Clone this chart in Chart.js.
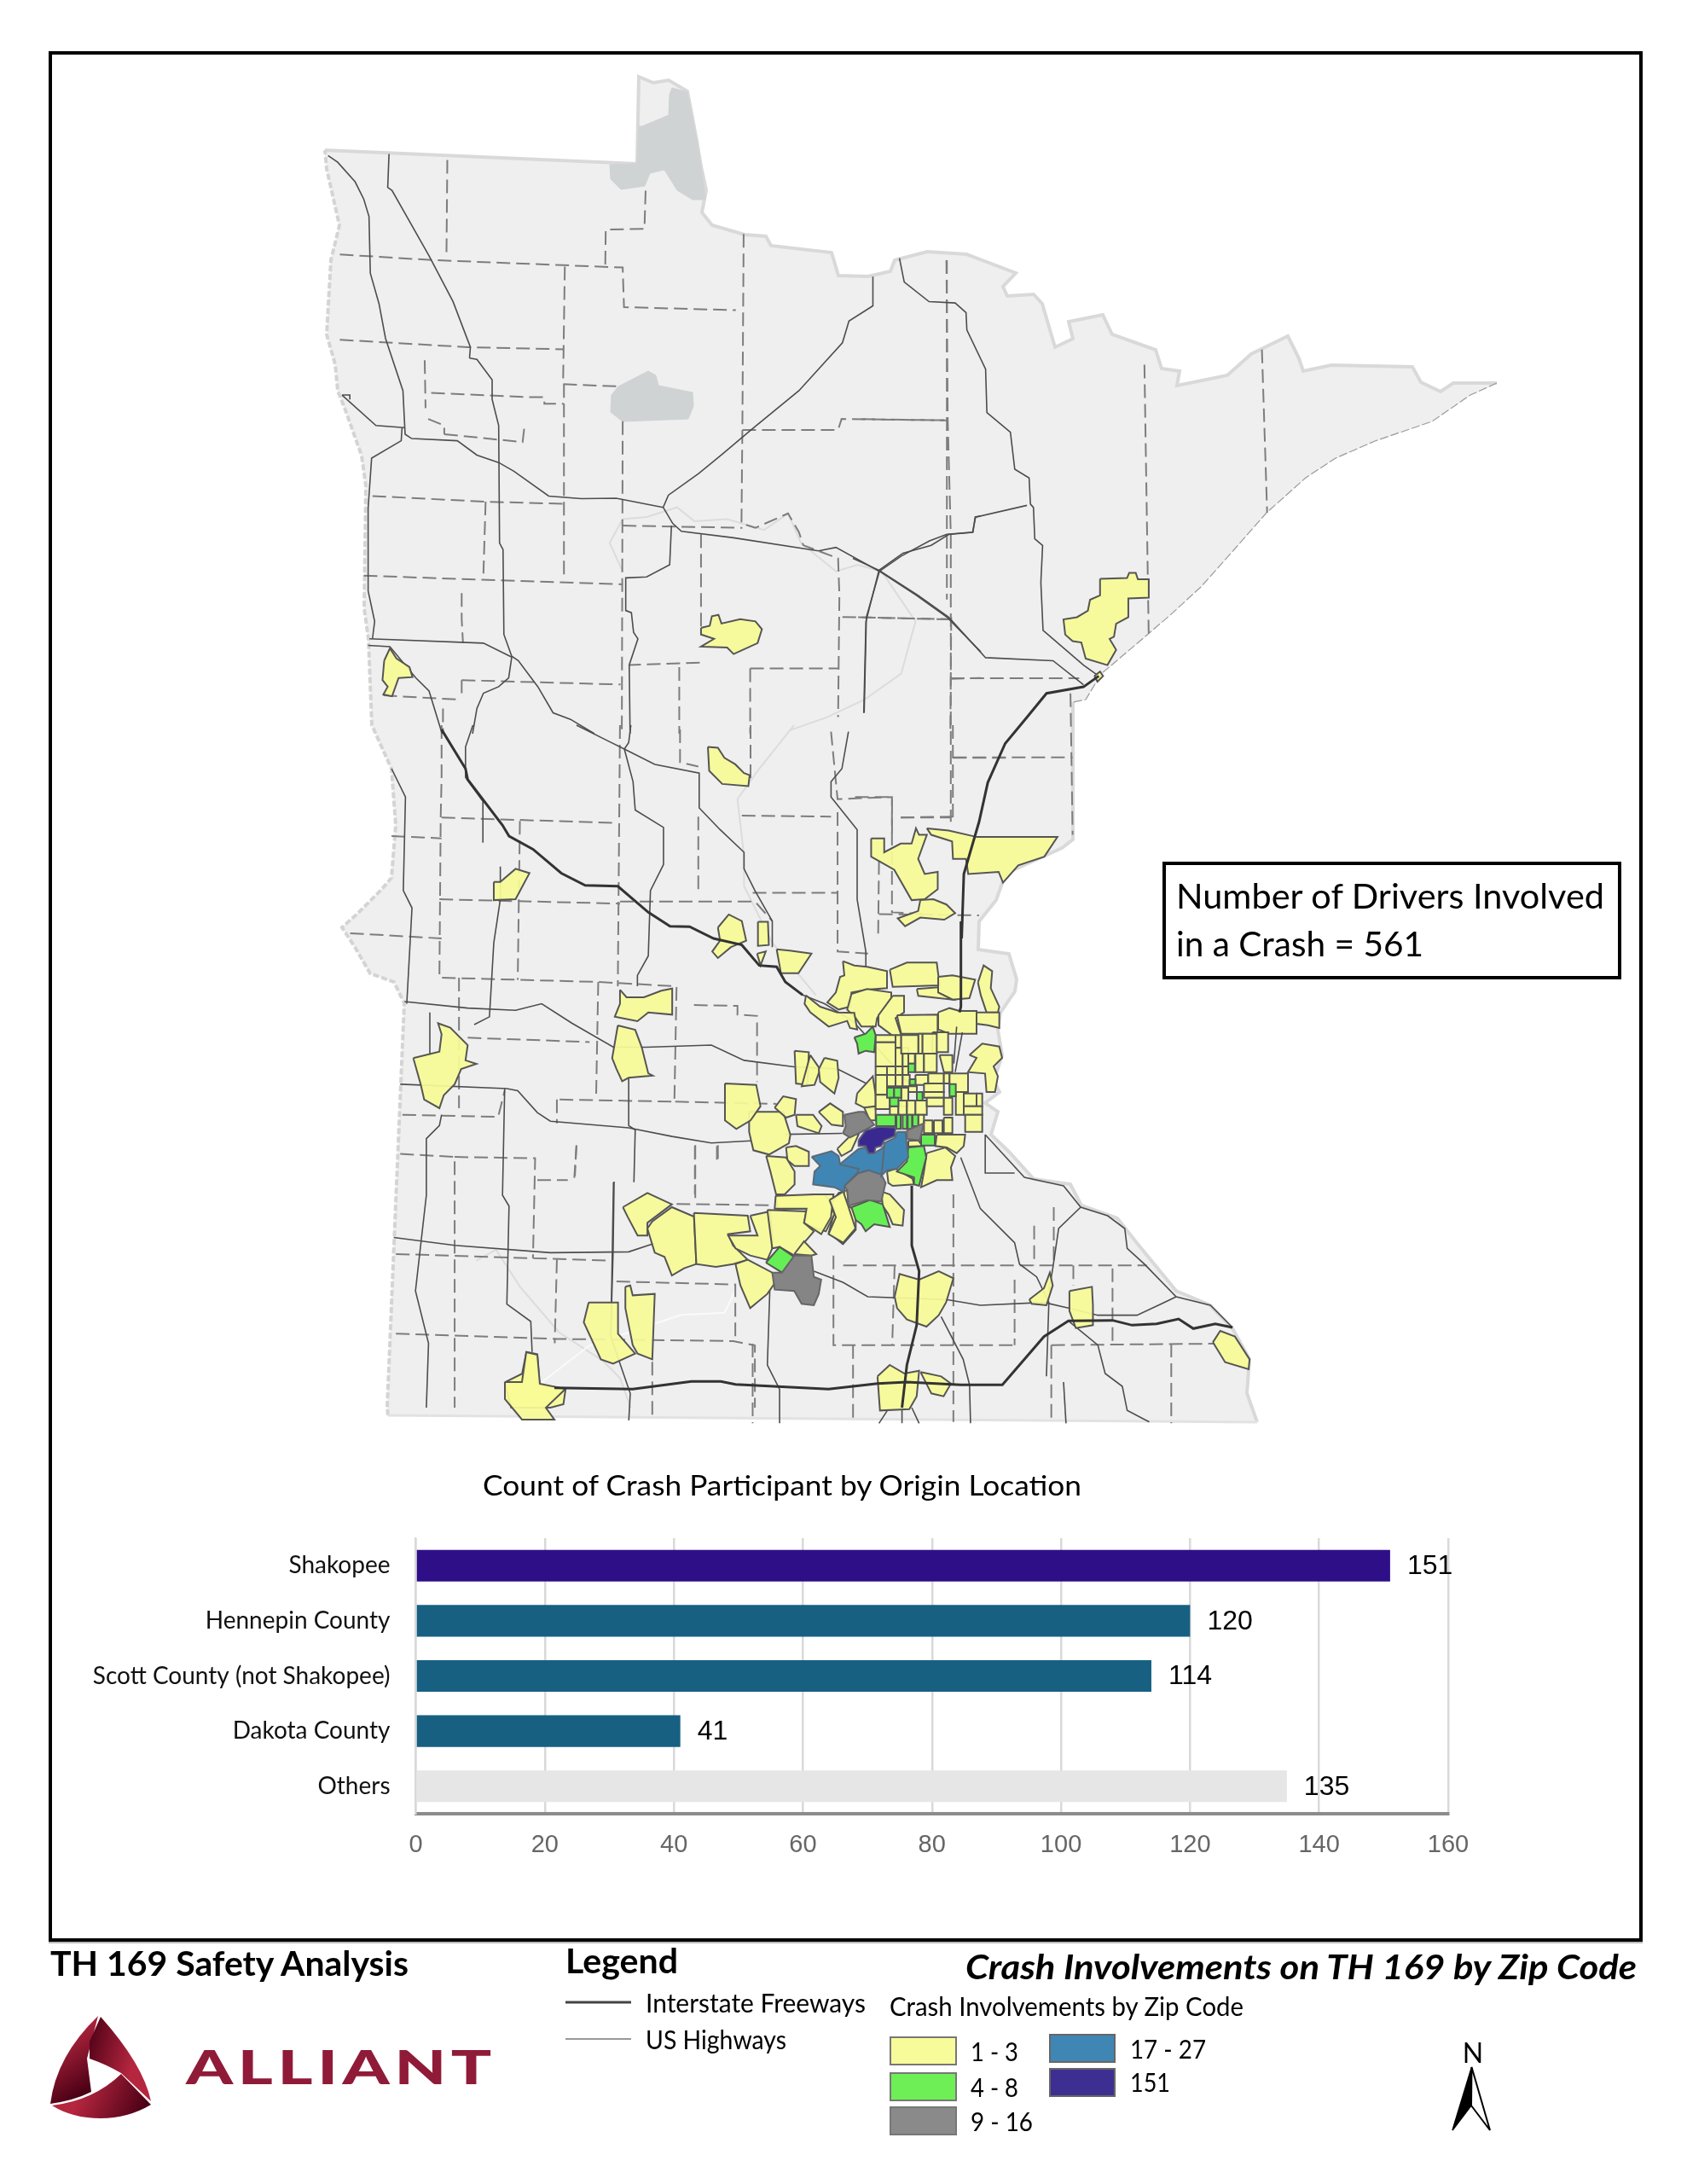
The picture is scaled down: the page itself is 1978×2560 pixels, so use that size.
<!DOCTYPE html>
<html>
<head>
<meta charset="utf-8">
<title>Crash Involvements on TH 169 by Zip Code</title>
<script src="https://cdn.jsdelivr.net/npm/chart.js@4/dist/chart.umd.min.js"></script>
<style>
    html, body { margin: 0; padding: 0; background: #fff; }
    #page { position: relative; width: 1978px; height: 2560px; overflow: hidden; background: #fff; }
    #frame { position: absolute; left: 57px; top: 60px; width: 1861px; height: 2208px; border: 4px solid #000; box-shadow: 0 2px 0 #bbb; }
    #mapChart, #barChart, #notes { position: absolute; }
    #mapChart { left: 0; top: 0; }
    #barChart { left: 60px; top: 1780px; }
    #notes { left: 0; top: 0; }
</style>
</head>
<body>
<div id="page">
    <div id="frame"></div>
    <canvas id="mapChart" width="1978" height="1720"></canvas>
    <canvas id="barChart" width="1750" height="440"></canvas>
    <svg id="notes" width="1978" height="2560" viewBox="0 0 1978 2560" xmlns="http://www.w3.org/2000/svg">
        <defs>
            <linearGradient id="bladeLeft" x1="0" y1="0" x2="0.35" y2="1">
                <stop offset="0.25" stop-color="#b5263f"/><stop offset="1" stop-color="#4a0015"/>
            </linearGradient>
            <linearGradient id="bladeRight" x1="0" y1="0" x2="1" y2="0.35">
                <stop offset="0" stop-color="#4a0015"/><stop offset="0.8" stop-color="#b5263f"/>
            </linearGradient>
            <linearGradient id="bladeBottom" x1="0" y1="0.3" x2="1" y2="0.5">
                <stop offset="0.3" stop-color="#b5263f"/><stop offset="1" stop-color="#4a0015"/>
            </linearGradient>
        </defs>

        <rect x="1365" y="1012" width="534" height="134" fill="#fff" stroke="#000" stroke-width="4"/>
        <text x="1379" y="1065" font-family="Lato" font-size="41" textLength="502" lengthAdjust="spacingAndGlyphs">Number of Drivers Involved</text>
        <text x="1379" y="1121" font-family="Lato" font-size="41" textLength="290" lengthAdjust="spacingAndGlyphs">in a Crash = 561</text>

        <text x="566" y="1753" font-family="Lato" font-size="33" textLength="702" lengthAdjust="spacingAndGlyphs">Count of Crash Participant by Origin Location</text>

        <text x="59" y="2316" font-family="Lato" font-weight="700" font-size="41" textLength="420" lengthAdjust="spacingAndGlyphs">TH 169 Safety Analysis</text>
        <text x="663" y="2313" font-family="Lato" font-weight="700" font-size="41" textLength="132" lengthAdjust="spacingAndGlyphs">Legend</text>
        <text x="1132" y="2320" font-family="Lato" font-weight="700" font-style="italic" font-size="41" textLength="787" lengthAdjust="spacingAndGlyphs">Crash Involvements on TH 169 by Zip Code</text>

        <line x1="663" y1="2347" x2="740" y2="2347" stroke="#444" stroke-width="3"/>
        <line x1="663" y1="2390" x2="740" y2="2390" stroke="#999" stroke-width="2"/>
        <text x="757" y="2359" font-family="Lato" font-size="30" textLength="258" lengthAdjust="spacingAndGlyphs">Interstate Freeways</text>
        <text x="757" y="2402" font-family="Lato" font-size="30" textLength="165" lengthAdjust="spacingAndGlyphs">US Highways</text>

        <text x="1043" y="2363" font-family="Lato" font-size="30" textLength="415" lengthAdjust="spacingAndGlyphs">Crash Involvements by Zip Code</text>
        <rect x="1044" y="2388" width="77" height="32" fill="#f7fb99" stroke="#777" stroke-width="2"/>
        <rect x="1044" y="2430" width="77" height="32" fill="#6eef55" stroke="#777" stroke-width="2"/>
        <rect x="1044" y="2470" width="77" height="32" fill="#8a8a8a" stroke="#777" stroke-width="2"/>
        <rect x="1231" y="2385" width="76" height="32" fill="#4086b5" stroke="#666" stroke-width="2"/>
        <rect x="1231" y="2425" width="76" height="32" fill="#3d2f92" stroke="#666" stroke-width="2"/>
        <text x="1138" y="2416" font-family="Lato" font-size="30" textLength="56" lengthAdjust="spacingAndGlyphs">1 - 3</text>
        <text x="1138" y="2458" font-family="Lato" font-size="30" textLength="56" lengthAdjust="spacingAndGlyphs">4 - 8</text>
        <text x="1138" y="2498" font-family="Lato" font-size="30" textLength="73" lengthAdjust="spacingAndGlyphs">9 - 16</text>
        <text x="1325" y="2413" font-family="Lato" font-size="30" textLength="89" lengthAdjust="spacingAndGlyphs">17 - 27</text>
        <text x="1325" y="2452" font-family="Lato" font-size="30" textLength="47" lengthAdjust="spacingAndGlyphs">151</text>

        <text x="1727" y="2418" text-anchor="middle" font-family="Lato" font-size="32">N</text>
        <path d="M1725.5 2423 L1703 2497 L1725 2468 Z" fill="#000" stroke="#000" stroke-width="1.5"/>
        <path d="M1725.5 2423 L1747 2497 L1725 2468 Z" fill="#fff" stroke="#000" stroke-width="2"/>

        <path d="M115 2363 Q66 2410 59 2466 Q87 2462 107 2452 L102 2413 Z" fill="url(#bladeLeft)"/>
        <path d="M118 2364 Q168 2420 177 2463 L142 2430 Q125 2420 105 2413 L105 2393 Z" fill="url(#bladeRight)"/>
        <path d="M61 2468 Q110 2462 142 2431 L177 2467 Q150 2483 118 2483 Q85 2483 61 2468 Z" fill="url(#bladeBottom)"/>
        <text x="218" y="2443" font-family="Lato" font-weight="900" font-size="56" letter-spacing="4" fill="#8f1b38" textLength="364" lengthAdjust="spacingAndGlyphs">ALLIANT</text>
    </svg>
</div>

<script>
// Bar panel values
const categories = ["Shakopee", "Hennepin County", "Scott County (not Shakopee)", "Dakota County", "Others"];
const crashCounts = [151, 120, 114, 41, 135];
const barColors = ["#2f0f87", "#176082", "#176082", "#176082", "#e6e6e6"];

const cropA = [350, 60, 1.96, 1.96];
const cropB = [1000, 300, 1.96, 1.96];
const cropC = [380, 850, 1.96, 1.96];
const cropD = [850, 1080, 3, 3];
const cropE = [650, 1300, 1.742, 3];

const northBorder = [
    [381,176],[747,192],[749,90],[766,97],[784,94],[806,107],[817,165],[822,195],[828,223],[823,249],[835,264],[873,275],[898,277],[904,288],
    [975,296],[983,323],[1018,324],[1044,318],[1049,305],[1087,295],[1133,298],[1191,320],[1176,336],[1181,347],[1212,345],[1222,356],[1237,407],
    [1258,397],[1253,377],[1293,369],[1304,392],[1355,410],[1362,432],[1383,435],[1380,452],[1439,440],[1467,415],[1510,394],[1523,420],[1528,435],
    [1561,428],[1656,430],[1666,448],[1689,459],[1704,449],[1755,449]
];
const lakeShore = [
    [1755,449],[1724,463],[1679,494],[1612,517],[1566,537],[1531,560],[1485,601],[1449,642],[1408,688],[1372,721],[1337,751],[1291,790],[1273,820],[1258,823]
];
const eastBorder = [
    [1258,823],[1258,984],[1245,994],[1179,1024],[1168,1055],[1148,1080],[1147,1113],[1183,1118],[1192,1148],[1190,1162],[1173,1187],[1170,1207],[1175,1237],
    [1165,1267],[1172,1280],[1155,1293],[1170,1303],[1162,1330],[1183,1350],[1212,1382],[1255,1388],[1268,1413],[1310,1428],[1333,1457],[1379,1513],
    [1419,1530],[1445,1557],[1465,1593],[1462,1633],[1474,1667]
];
const southBorder = [[1474,1667],[455,1659]];
const westBorder = [
    [455,1659],[454,1650],[464,1411],[474,1176],[462,1151],[434,1141],[416,1110],[401,1087],[418,1072],[446,1044],[459,1029],[464,967],[459,901],[436,850],
    [432,749],[427,713],[429,570],[424,534],[404,478],[396,458],[393,427],[383,392],[388,305],[398,264],[383,198],[381,176]
];
const lakeOfTheWoods = [
    [788,103],[806,108],[817,165],[822,195],[827,234],[812,234],[794,223],[779,199],[762,203],[756,218],[728,222],[716,210],[715,193],[747,192],[749,148],[753,148],[784,135],[785,111]
];
const redLake = [[725,453],[760,435],[769,440],[772,452],[812,460],[813,476],[807,491],[730,494],[716,483],[717,463]];

const ghostRoadsA = [
    [[745,1195],[715,1130],[745,1075],[800,1070],[870,1048],[910,1080],[985,1075],[1070,1100],[1125,1062],[1155,1130],[1235,1195],[1285,1180],[1340,1195],[1418,1310],[1385,1430],[1300,1490],[1215,1530],[1130,1560]]
];
const ghostRoadsC = [
    [[1080,0],[1000,100],[950,170],[965,300],[965,370],[1030,500],[1130,620]],
    [[350,1230],[395,1205],[450,1290],[540,1395],[640,1460],[680,1500],[705,1568]]
];
const paleRoadsC = [[[500,1510],[610,1425],[820,1355],[920,1350],[945,1300]]];

const dashedRoadsA = [
    [[95,467],[310,480],[745,497],[748,588],[1005,595]],[[342,250],[340,470]],[[612,495],[608,765],[730,770]],[[610,765],[610,1205]],
    [[705,490],[706,410],[795,408],[798,310]],[[1023,420],[1020,870],[1018,1085],[1050,1095],[1125,1062],[1150,1105],[1160,1135],[1240,1165],[1243,1250],[1240,1530]],
    [[95,663],[390,680],[610,685]],[[290,710],[292,820]],[[305,785],[530,795],[565,795],[565,810],[610,810]],[[298,845],[335,860],[335,880]],[[335,880],[515,898],[520,855]],
    [[745,850],[743,1568]],[[1020,870],[1240,870],[1248,845],[1490,848]],[[1490,480],[1490,1260]],[[170,1022],[430,1035],[612,1040]],[[430,1035],[425,1200]],
    [[150,1205],[745,1225]],[[375,1245],[375,1305],[378,1360]],[[375,1445],[740,1455]],[[375,1445],[375,1475]],[[745,1090],[1020,1095]],[[925,1110],[925,1325]],
    [[922,1405],[760,1410]],[[875,1415],[875,1568]],[[1038,1418],[1240,1418]],[[1038,1418],[1038,1568]],[[1250,1300],[1500,1305]],[[1500,1300],[1498,1568]],[[1498,1442],[1568,1440]],
    [[195,1480],[375,1490]],[[332,1510],[332,1568]]
];
const dashedRoadsB = [
    [[215,10],[218,380],[225,640],[225,1300]],[[20,375],[218,378]],[[670,250],[680,880]],[[940,215],[952,590]],[[12,830],[220,835]],[[225,970],[520,970]],
    [[500,1005],[505,1330]],[[230,1152],[505,1152]],[[5,1243],[90,1243],[90,1330]],[[110,1290],[225,1290]],[[60,1390],[58,1568]],[[60,1512],[290,1515]]
];
const dashedRoadsC = [
    [[270,0],[270,120],[268,210],[265,580],[630,590],[810,600],[805,865],[535,860]],[[270,212],[675,225]],[[680,0],[675,600]],[[155,255],[270,260]],[[265,400],[680,410]],
    [[680,405],[990,405],[1030,450]],[[60,478],[270,490]],[[450,220],[445,585]],[[310,580],[310,880]],[[630,590],[625,860]],[[330,718],[610,728]],[[180,895],[400,900],[415,840]],
    [[535,860],[535,915]],[[860,210],[860,380]],[[985,385],[1180,385]],[[960,208],[1165,210]],[[1165,15],[1180,170],[1305,165],[1305,430],[1400,435]],[[1180,200],[1180,520],[1250,525]],
    [[1445,0],[1445,220]],[[1445,75],[1568,75]],[[1325,212],[1445,210]],[[980,0],[980,130]],[[818,10],[818,85],[860,95]],[[850,643],[950,645],[950,665],[995,668],[995,820]],
    [[807,865],[1040,870]],[[175,985],[300,992],[300,1568]],[[300,992],[485,995],[480,1225]],[[490,1045],[560,1045]],[[580,965],[575,1040]],[[165,1215],[650,1230]],[[535,1228],[530,1420]],
    [[165,1398],[530,1410],[940,1415],[990,1425],[990,1568]],[[672,1278],[945,1285],[945,1410]],[[810,1100],[1040,1103]],[[905,965],[905,1010]],[[853,965],[853,1090]]
];
const dashedRoadsE = [
    [[570,515],[570,830],[940,830]],[[590,550],[1210,550]],[[695,550],[690,830]],[[815,300],[815,1100]],[[980,410],[980,550]],[[1020,345],[1020,550]],[[1060,550],[1060,620]],
    [[1140,560],[1140,830]],[[1015,830],[1350,825]],[[1015,830],[1015,1105]],[[1260,825],[1260,1105]],[[940,600],[940,830]],[[610,830],[610,1105]],[[405,825],[405,1105]],
    [[200,820],[200,1095]],[[287,130],[287,300]],[[332,130],[332,195]],[[45,130],[42,235]]
];

const thinRoadsA = [
    [[68,240],[90,255],[130,300],[150,340],[162,380],[165,510],[185,580],[200,660],[240,780],[245,880],[260,890],[365,895],[410,928],[460,945],[495,965],[575,1022],[650,1028],[730,1027],[838,1048]],
    [[208,236],[205,313],[215,320],[300,470],[355,575],[395,680],[393,705]],
    [[393,705],[410,708],[445,755],[445,800],[460,860],[462,1130],[470,1145],[472,1340],[490,1390],[505,1400],[550,1460],[585,1520],[625,1535],[680,1568]],
    [[100,790],[178,860],[243,865]],[[100,790],[118,790],[118,800]],
    [[238,865],[236,895],[168,935],[160,1050],[160,1240],[175,1310],[170,1350]],
    [[163,1350],[425,1360],[490,1392],[483,1440],[460,1460],[425,1475],[410,1510],[400,1568]],
    [[838,1048],[860,1085],[880,1103],[1000,1118],[1195,1148],[1235,1140],[1335,1195]],
    [[1335,1195],[1420,1250],[1490,1300],[1568,1380]],
    [[838,1048],[850,1020],[920,970],[975,925],[1040,870],[1150,780],[1250,670],[1265,620],[1320,585],[1320,518]],
    [[857,1090],[853,1180],[800,1208],[752,1210],[752,1285],[765,1290],[770,1335],[780,1350],[760,1410],[762,1568]],
    [[1335,1195],[1305,1300],[1300,1520]],
    [[1335,1195],[1385,1160],[1450,1125],[1490,1110],[1550,1105],[1555,1070],[1568,1068]],
    [[160,1365],[210,1368],[270,1440],[300,1470],[330,1568]]
];
const thinRoadsB = [
    [[107,5],[118,60],[175,105],[235,108],[260,130],[262,170],[305,260],[308,360],[362,405],[372,490],[405,510],[408,570],[415,578],[418,650],[436,665],[432,750],[437,860],[530,940],[565,965]],
    [[0,695],[60,722],[150,780],[220,830],[305,923],[460,930],[530,985]],
    [[60,722],[115,683],[180,665],[220,640],[275,635],[282,600],[400,573]],
    [[60,722],[30,840],[25,1050]]
];
const thinRoadsC = [
    [[342,0],[325,50],[325,120],[365,175],[365,270]],
    [[580,0],[650,35],[690,55],[760,90],[862,110],[862,190],[910,240],[965,292],[965,330],[990,380],[1030,450],[1030,510]],
    [[690,55],[710,130],[715,195],[780,235],[780,320],[750,380],[745,530],[720,575],[720,600]],
    [[705,0],[700,40],[690,55]],
    [[1205,15],[1190,100],[1165,130],[1165,165],[1225,240],[1225,400],[1245,520],[1245,555]],
    [[405,325],[405,400],[390,500],[380,670],[345,688]],
    [[185,635],[330,650],[440,655],[500,640],[570,685],[665,740],[740,740],[890,735],[965,770],[1080,785],[1180,790],[1250,825]],
    [[155,100],[187,165],[182,380],[202,420],[190,640]],
    [[243,660],[243,760]],
    [[175,825],[420,835],[445,840],[490,890],[520,910],[700,925],[800,945],[890,960],[980,955]],
    [[415,835],[410,1080],[425,1105],[420,1330],[475,1370],[478,1440]],
    [[700,810],[700,920],[715,930],[712,1050]],
    [[270,895],[265,920],[235,950],[235,1080],[210,1300],[240,1420],[235,1568]],
    [[665,1050],[660,1350]],
    [[160,1177],[300,1195],[520,1212],[700,1210],[760,1190]],
    [[1060,940],[1190,938]],
    [[1100,620],[1150,640],[1215,680],[1270,740],[1350,830]]
];
const thinRoadsD = [[[815,370],[805,500]],[[835,390],[810,530]]];
const thinRoadsE = [
    [[830,170],[870,350],[940,470],[950,545],[985,590],[1010,680],[1005,940]],
    [[880,90],[960,240],[1040,270],[1075,345],[1130,375],[1165,420],[1170,490],[1205,545],[1270,660],[1340,690],[1385,768]],
    [[1075,345],[1030,420],[1018,560],[1010,640]],
    [[530,570],[590,610],[640,660],[800,670],[870,690],[1000,680],[1050,700],[1110,725],[1190,725],[1240,685],[1270,660]],
    [[440,640],[435,900],[460,985],[460,1105]],
    [[1050,745],[1110,830],[1125,930],[1160,975],[1170,1060],[1215,1100]],
    [[790,730],[835,880],[848,970],[850,1105]],
    [[1040,960],[1045,1105]],
    [[122,255],[120,500],[115,800],[155,1000],[152,1095]],
    [[880,90],[880,225],[940,225]],
    [[663,1105],[680,1060]],[[745,1105],[730,1050]],[[710,1050],[710,1105]]
];
const interstatesB = [[[565,965],[530,990],[445,1005],[400,1060],[350,1120],[310,1210],[290,1300],[255,1420],[250,1568]]];
const interstatesC = [
    [[270,10],[325,100],[330,125],[410,230],[425,255],[480,285],[545,340],[600,368],[675,370],[745,430],[795,462],[840,463],[895,490],[960,505],[1000,552],[1040,555],[1060,590],[1100,620]]
];
const interstatesD = [[[830,0],[830,300],[825,320]]];
const interstatesE = [
    [[0,980],[160,985],[280,958],[340,958],[370,968],[560,985],[660,965],[720,960],[830,970],[915,970],[1000,800],[1050,745],[1140,743],[1180,760],[1230,755],[1275,738],[1305,772],[1350,755],[1385,768]],
    [[730,270],[730,480],[745,570],[740,760],[720,900],[710,1050]]
];

const lowZonesA = [
    [[925,1325],[945,1320],[950,1298],[965,1295],[972,1315],[1015,1305],[1050,1310],[1065,1328],[1055,1360],[1000,1385],[985,1370],[925,1368],[955,1350],[925,1340]],
    [[197,1400],[210,1372],[225,1395],[255,1415],[262,1438],[230,1440],[215,1482],[195,1478],[205,1460],[193,1445]]
];
const lowZonesB = [
    [[568,742],[630,740],[635,728],[650,728],[655,743],[680,743],[680,785],[633,787],[633,830],[605,845],[600,875],[590,880],[605,905],[585,940],[535,925],[525,888],[505,885],[488,870],[484,835],[515,830],[540,815],[545,790],[568,780]],
    [[555,965],[568,955],[575,965],[562,978]],
    [[170,1315],[220,1320],[285,1335],[470,1335],[440,1380],[380,1400],[345,1440],[335,1415],[265,1420],[260,1385],[230,1385],[228,1345],[180,1330]],
    [[42,1338],[72,1338],[72,1370],[110,1350],[135,1350],[145,1315],[152,1330],[170,1330],[150,1385],[165,1420],[195,1415],[195,1455],[165,1478],[135,1480],[95,1410],[42,1380]],
    [[155,1480],[185,1478],[215,1490],[235,1510],[210,1525],[155,1520],[120,1540],[103,1522],[150,1505]]
];
const lowZonesC = [
    [[882,50],[905,52],[920,75],[945,90],[965,110],[978,115],[975,140],[915,135],[885,105]],
    [[390,360],[405,360],[440,330],[472,340],[440,400],[390,402]],
    [[205,765],[265,750],[270,710],[262,685],[290,695],[330,735],[325,770],[350,778],[315,790],[300,825],[275,850],[265,880],[230,860],[222,825]],
    [[680,608],[695,625],[735,625],[775,610],[800,605],[800,665],[745,660],[720,680],[668,670],[680,640]],
    [[675,690],[715,700],[730,740],[745,800],[755,805],[700,810],[685,818],[672,790],[662,765]],
    [[905,465],[930,435],[960,450],[970,495],[935,510],[905,535],[892,520],[910,495]],
    [[997,452],[1020,452],[1022,505],[997,507]],
    [[995,525],[1015,520],[1003,552]],
    [[1040,515],[1070,518],[1120,525],[1090,570],[1050,570]],
    [[415,1510],[455,1490],[465,1440],[490,1445],[495,1515],[555,1525],[550,1560],[520,1568],[430,1568]]
];
const lowZonesD = [
    [[415,140],[455,155],[500,160],[570,175],[570,235],[500,240],[445,250],[440,300],[400,310],[360,285],[390,250],[405,195],[420,190]],
    [[580,170],[640,145],[745,145],[755,225],[590,230]],
    [[750,195],[800,190],[880,205],[860,270],[800,275],[750,250]],
    [[675,238],[750,232],[750,250],[800,275],[680,262]],
    [[890,215],[910,155],[940,175],[935,235],[965,300],[960,320],[920,320],[900,260]],
    [[445,255],[500,238],[585,250],[585,270],[535,340],[530,370],[480,370],[460,340],[430,310]],
    [[590,262],[630,262],[630,320],[600,340],[620,400],[600,410],[540,365],[540,330]],
    [[285,260],[335,300],[395,320],[455,322],[465,380],[440,375],[430,350],[365,370],[300,320],[280,290]],
    [[605,330],[748,328],[748,395],[620,395]],
    [[750,320],[790,305],[825,315],[885,315],[885,395],[790,395],[750,380]],
    [[885,320],[965,320],[965,375],[925,365],[885,360]],
    [[465,605],[520,545],[530,610],[530,660],[490,655],[460,640]],
    [[490,655],[530,650],[530,700],[510,700]],
    [[645,772],[680,770],[695,790],[645,792]],
    [[745,750],[845,750],[840,790],[815,815],[780,795],[740,790]],
    [[710,815],[775,795],[810,825],[795,865],[800,910],[745,910],[690,935],[700,880]],
    [[570,880],[600,870],[660,905],[665,925],[590,930],[575,920]],
    [[550,950],[580,960],[630,1015],[625,1070],[590,1065],[575,1030],[555,1000]],
    [[375,990],[400,955],[430,945],[435,1000],[460,1020],[460,1085],[415,1135],[365,1095],[375,1060],[385,1020]],
    [[180,965],[250,965],[350,960],[370,985],[385,1030],[355,1090],[280,1065],[290,1010],[185,1010]],
    [[85,670],[205,670],[230,750],[225,780],[155,820],[100,805],[85,740]],
    [[0,570],[110,575],[125,650],[90,700],[40,730],[0,700]],
    [[175,655],[205,615],[250,625],[245,680],[215,690]],
    [[250,680],[310,680],[340,720],[330,745],[285,730],[255,720]],
    [[330,670],[370,640],[415,670],[415,720],[375,715]],
    [[215,795],[250,790],[295,810],[295,860],[245,860],[220,840]],
    [[145,825],[215,830],[245,880],[245,925],[210,960],[180,960],[160,880]],
    [[395,800],[450,745],[470,750],[445,805],[410,825]],
    [[245,455],[295,460],[290,575],[250,570]],
    [[300,470],[335,520],[315,575],[270,580]],
    [[350,480],[395,490],[400,550],[385,605],[335,565],[330,520]],
    [[860,470],[905,430],[965,440],[975,480],[945,510],[960,545],[950,600],[920,600],[915,535],[855,530],[885,480]],
    [[755,470],[800,470],[800,530],[770,530]]
];
const lowZonesE = [
    [[140,345],[190,295],[240,335],[190,400],[190,445],[170,445],[150,380]],
    [[190,420],[200,395],[240,345],[285,378],[290,545],[265,560],[240,585],[225,520],[205,505]],
    [[285,365],[395,375],[400,430],[355,440],[365,480],[395,530],[365,545],[330,555],[290,545]],
    [[400,375],[440,360],[445,450],[445,490],[435,530],[400,515],[370,490],[355,445],[415,445]],
    [[435,355],[515,360],[510,400],[530,430],[500,490],[490,515],[460,485],[445,490]],
    [[452,305],[530,300],[570,300],[565,380],[545,440],[510,400],[515,350],[450,350]],
    [[562,320],[590,290],[600,340],[615,420],[590,470],[560,440],[575,380]],
    [[490,510],[510,465],[535,510],[525,515]],
    [[370,545],[395,530],[445,575],[455,600],[435,650],[400,700],[380,620]],
    [[695,660],[705,580],[745,600],[785,570],[815,595],[800,680],[785,725],[760,765],[720,740],[700,700]],
    [[970,670],[1000,630],[1012,575],[1018,620],[1005,690],[975,685]],
    [[1052,640],[1098,625],[1100,690],[1100,760],[1065,770],[1052,710]],
    [[1345,820],[1360,780],[1390,800],[1420,880],[1418,915],[1370,890]],
    [[660,940],[685,900],[715,930],[745,920],[740,1010],[725,1055],[665,1060]],
    [[748,925],[790,940],[810,965],[795,1010],[770,1000]],
    [[145,625],[155,620],[160,655],[205,650],[200,880],[170,860],[160,830],[145,700]],
    [[70,680],[130,680],[130,790],[165,860],[120,895],[95,880],[60,750]]
];
const lowZonesPage = [[[592,1620],[612,1620],[617,1585],[630,1588],[633,1622],[663,1628],[640,1650],[650,1664],[612,1664],[592,1640]]];

// metro zip blocks as left, top, right, bottom in crop D
const metroLowCells = [
    [530,400,600,425],[600,400,620,445],[530,425,600,510],[600,445,625,510],[625,445,645,510],[645,465,668,500],[670,465,700,530],[700,465,745,530],[730,390,785,460],[680,395,695,465],[695,395,745,465],[620,400,680,465],
    [530,510,570,540],[570,510,600,540],[600,510,625,540],[625,510,645,540],[530,540,570,610],[570,540,600,580],[600,540,625,580],[625,540,650,580],[670,540,715,575],[715,535,770,570],[770,535,790,570],
    [790,535,855,600],[620,585,645,650],[645,580,675,600],[700,570,770,600],[700,600,770,620],[812,600,840,680],[840,605,885,650],[885,605,905,650],[530,610,580,660],[580,650,610,680],[610,630,640,680],[640,630,670,680],[670,630,710,680],
    [710,620,770,650],[770,620,800,680],[840,650,905,680],[680,680,700,720],[700,700,730,745],[735,700,765,745],[770,690,800,745],[845,680,905,740]
];
const metroMidCells = [
    [645,500,668,530],[650,555,670,575],[570,585,595,620],[595,585,620,620],[675,600,695,630],[790,572,812,615],[580,620,610,650],[532,680,600,720],[603,680,618,730],[625,680,640,730],[643,680,658,730],[660,680,680,720],[690,750,738,788]
];

const midZonesD = [
    [[455,408],[495,395],[520,370],[530,400],[525,460],[495,455],[470,465],[465,430]],
    [[645,795],[700,790],[708,830],[695,880],[683,930],[665,925],[665,900],[605,880],[640,845]],
    [[445,1005],[510,980],[555,995],[580,1075],[525,1065],[495,1090],[480,1065],[460,1050]]
];
const midZonesE = [[[432,540],[460,485],[490,520],[490,570],[465,575]]];
const highZonesD = [
    [[420,680],[470,670],[490,670],[525,715],[490,735],[470,745],[440,760],[415,745],[425,720]],
    [[420,930],[470,885],[505,875],[550,890],[565,920],[550,985],[500,980],[435,1000],[430,945]],
    [[640,735],[700,710],[685,770],[640,765]]
];
const highZonesE = [[[445,575],[465,575],[490,515],[525,515],[530,590],[545,600],[540,650],[530,690],[505,685],[490,640],[450,635]]];
const severeZonesD = [
    [[605,740],[635,740],[640,790],[645,830],[605,870],[570,875],[550,895],[555,850],[560,780],[600,760]],
    [[403,855],[470,800],[495,795],[505,815],[530,812],[550,800],[560,790],[555,850],[550,890],[505,875],[470,885]],
    [[305,828],[375,808],[400,825],[405,855],[470,870],[465,885],[420,930],[420,952],[385,935],[310,925],[315,880],[335,860]]
];
const shakopeeZoneD = [[[470,770],[495,735],[540,722],[600,725],[597,755],[560,770],[550,790],[530,795],[525,815],[505,815],[495,790],[470,790]]];

function toMap(crop, pts) {
    const [ox, oy, sx, sy] = crop;
    return pts.map(([x, y]) => ({ x: ox + x / sx, y: oy + y / sy }));
}

function cellToPts([l, t, r, b]) {
    return [[l, t], [r, t], [r, b], [l, b]];
}

function lineSets(lines, crop, style) {
    return lines.map((pts) => ({ data: toMap(crop, pts), ...style }));
}

function shapeSets(shapes, crop, fillColor, strokeColor, width) {
    return shapes.map((pts) => ({
        data: toMap(crop, [...pts, pts[0]]),
        fill: "shape",
        backgroundColor: fillColor,
        borderColor: strokeColor,
        borderWidth: width
    }));
}

function renderMap() {
    const ctx = document.getElementById("mapChart");
    const pageCrop = [0, 0, 1, 1];
    const stateOutline = [...northBorder, ...lakeShore, ...eastBorder, ...southBorder, ...westBorder];
    const ghost = { borderColor: "#dcdcdc", borderWidth: 2 };
    const dashed = { borderColor: "#7d7d7d", borderWidth: 2, borderDash: [16, 7] };
    const thin = { borderColor: "#4d4d4d", borderWidth: 1.6 };
    const thick = { borderColor: "#333333", borderWidth: 3 };
    const low = "rgba(247,251,150,0.93)";
    const zoneLine = "#555555";

    // drawn in this order; the list is reversed below since Chart.js paints the first dataset last
    const layers = [
        ...shapeSets([stateOutline], pageCrop, "#efefef", "#efefef", 1),
        ...lineSets([northBorder, eastBorder], pageCrop, { borderColor: "#d9d9d9", borderWidth: 4 }),
        ...lineSets([westBorder], pageCrop, { borderColor: "#d4d4d4", borderWidth: 4, borderDash: [7, 3] }),
        ...lineSets([southBorder], pageCrop, { borderColor: "#e2e2e2", borderWidth: 3 }),
        ...lineSets([lakeShore], pageCrop, { borderColor: "#9a9a9a", borderWidth: 1.2, borderDash: [10, 3] }),
        ...shapeSets([lakeOfTheWoods, redLake], pageCrop, "#cfd3d4", "#cfd3d4", 1),
        ...lineSets(ghostRoadsA, cropA, ghost),
        ...lineSets(ghostRoadsC, cropC, ghost),
        ...lineSets(paleRoadsC, cropC, { borderColor: "#fafafa", borderWidth: 2 }),
        ...lineSets(dashedRoadsA, cropA, dashed),
        ...lineSets(dashedRoadsB, cropB, dashed),
        ...lineSets(dashedRoadsC, cropC, dashed),
        ...lineSets(dashedRoadsE, cropE, dashed),
        ...lineSets(thinRoadsA, cropA, thin),
        ...lineSets(thinRoadsB, cropB, thin),
        ...lineSets(thinRoadsC, cropC, thin),
        ...lineSets(thinRoadsE, cropE, thin),
        ...shapeSets(lowZonesA, cropA, low, zoneLine, 2),
        ...shapeSets(lowZonesB, cropB, low, zoneLine, 2),
        ...shapeSets(lowZonesC, cropC, low, zoneLine, 2),
        ...shapeSets(lowZonesD, cropD, low, zoneLine, 2),
        ...shapeSets(lowZonesE, cropE, low, zoneLine, 2),
        ...shapeSets(lowZonesPage, pageCrop, low, zoneLine, 2),
        ...shapeSets(metroLowCells.map(cellToPts), cropD, low, zoneLine, 2),
        ...shapeSets(metroMidCells.map(cellToPts), cropD, "#66ef55", zoneLine, 2),
        ...shapeSets(midZonesD, cropD, "#66ef55", zoneLine, 2),
        ...shapeSets(midZonesE, cropE, "#66ef55", zoneLine, 2),
        ...shapeSets(highZonesD, cropD, "#858585", "#666666", 2),
        ...shapeSets(highZonesE, cropE, "#858585", "#666666", 2),
        ...shapeSets(severeZonesD, cropD, "#4086b5", "#5a6a78", 2),
        ...shapeSets(shakopeeZoneD, cropD, "#38288f", "#5a5a78", 2),
        ...lineSets(thinRoadsD, cropD, thin),
        ...lineSets(interstatesB, cropB, thick),
        ...lineSets(interstatesC, cropC, thick),
        ...lineSets(interstatesD, cropD, thick),
        ...lineSets(interstatesE, cropE, thick)
    ];

    new Chart(ctx, {
        type: "scatter",
        data: { datasets: layers.reverse().map((d) => ({ showLine: true, pointRadius: 0, tension: 0, fill: false, ...d })) },
        options: {
            responsive: false,
            animation: false,
            events: [],
            plugins: { legend: { display: false }, tooltip: { enabled: false } },
            scales: {
                x: { type: "linear", min: 0, max: 1978, display: false },
                y: { type: "linear", min: 0, max: 1720, reverse: true, display: false }
            }
        }
    });
}

const valueLabels = {
    id: "valueLabels",
    afterDatasetsDraw(chart) {
        const { ctx } = chart;
        const meta = chart.getDatasetMeta(0);
        ctx.save();
        ctx.fillStyle = "#000";
        ctx.font = "32px 'Liberation Sans'";
        ctx.textAlign = "left";
        ctx.textBaseline = "middle";
        meta.data.forEach((bar, i) => {
            ctx.fillText(String(crashCounts[i]), bar.x + 20, bar.y + 1);
        });
        ctx.restore();
    }
};

function renderBars() {
    const ctx = document.getElementById("barChart");
    new Chart(ctx, {
        type: "bar",
        data: {
            labels: categories,
            datasets: [{ data: crashCounts, backgroundColor: barColors, barPercentage: 0.574, categoryPercentage: 1 }]
        },
        options: {
            indexAxis: "y",
            responsive: false,
            animation: false,
            events: [],
            layout: { padding: { top: 23, right: 112, bottom: 0, left: 0 } },
            plugins: { legend: { display: false }, tooltip: { enabled: false } },
            scales: {
                x: {
                    min: 0,
                    max: 160,
                    afterFit: (scale) => { scale.height = 94; },
                    grid: { color: "#d9d9d9", lineWidth: 2.5, drawTicks: false },
                    border: { color: "#8c8c8c", width: 4 },
                    ticks: { stepSize: 20, padding: 20, maxRotation: 0, color: "#666666", font: { family: "'Liberation Sans'", size: 29 } }
                },
                y: {
                    afterFit: (scale) => {
                        scale.width = 427.5;
                        scale.paddingTop = 0;
                        scale.paddingBottom = 0;
                    },
                    grid: { display: false, drawTicks: false },
                    border: { color: "#d9d9d9", width: 2.5 },
                    ticks: { padding: 30, color: "#111111", font: { family: "Lato", size: 28 } }
                }
            }
        },
        plugins: [valueLabels]
    });
}

renderMap();
renderBars();
</script>
</body>
</html>
